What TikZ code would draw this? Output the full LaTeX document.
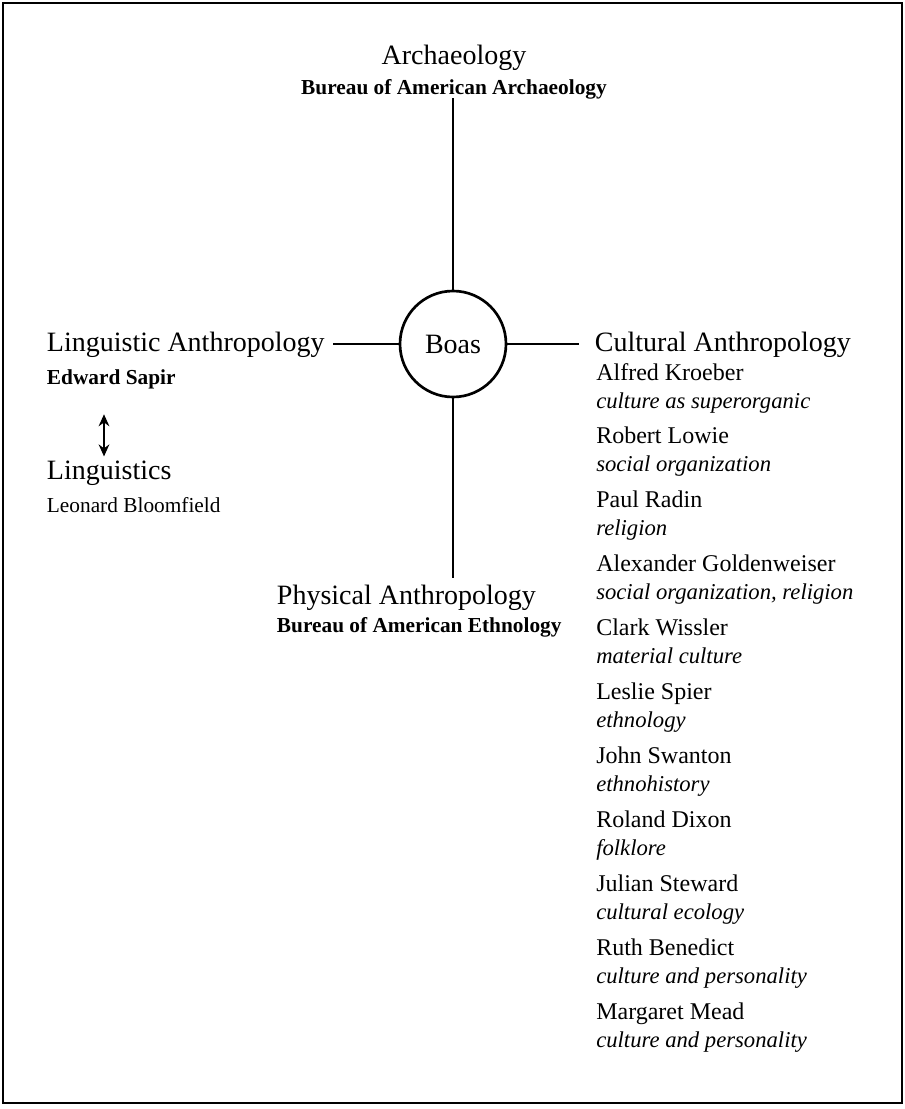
\documentclass[tikz,border=0pt]{standalone}
\usepackage{fontspec}
\setmainfont{Liberation Serif}
\usepackage{tikz}
\usetikzlibrary{arrows.meta, positioning}

\begin{document}
\begin{tikzpicture}
  [
    x=0.75pt, y=-0.75pt,
    Head/.style={inner sep=2pt, font=\fontsize{21}{24}\selectfont},
    Sub/.style={inner sep=2pt, font=\fontsize{16}{19}\selectfont\bfseries},
    Name/.style={inner sep=0pt, align=left, anchor=north west, font=\fontsize{18}{21}\selectfont},
    Hub/.style={circle, draw=black, line width=2pt, minimum size=79.5pt, inner sep=0pt, font=\fontsize{21}{24}\selectfont},
    Link/.style={draw, line width=1.5pt}
  ]
  \useasboundingbox (0,0) rectangle (905,1109);
  \draw[line width=1.5pt] (3,3) rectangle (902,1103);

  % Nodes
  \node[Hub] (boas) at (453, 344) {Boas};

  \node[Head] (arch) at (454, 58) {Archaeology};
  \node[Sub, below=2pt of arch] (archsub) {Bureau of American Archaeology};

  \node[Head, anchor=west] (ling) at (44, 345) {Linguistic Anthropology};
  \node[Sub, anchor=west] (sapir) at (44, 379) {Edward Sapir};
  \node[Head, anchor=west] (lingu) at (44, 473) {Linguistics};
  \node[Sub, anchor=west, font=\fontsize{16}{19}\selectfont] (bloom) at (44, 505) {Leonard Bloomfield};
  \coordinate (axis) at (104, 0);

  \node[Head, anchor=west] (phys) at (274, 598) {Physical Anthropology};
  \node[Sub, anchor=west] (physsub) at (274, 627) {Bureau of American Ethnology};

  \node[Head, anchor=west] (cult) at (592, 345) {Cultural Anthropology};
  \foreach \who/\what [count=\i from 0] in {
      Alfred Kroeber/culture as superorganic,
      Robert Lowie/social organization,
      Paul Radin/religion,
      Alexander Goldenweiser/{social organization, religion},
      Clark Wissler/material culture,
      Leslie Spier/ethnology,
      John Swanton/ethnohistory,
      Roland Dixon/folklore,
      Julian Steward/cultural ecology,
      Ruth Benedict/culture and personality,
      Margaret Mead/culture and personality}
    \node[Name] (p\i) at (596, {363 + 64*\i}) {\who\\{\itshape\fontsize{17}{21}\selectfont \what}};

  % Lines
  \path[Link, shorten >=-3pt] (boas.north) -- (boas.north |- archsub.south);
  \path[Link, shorten >=3pt] (boas.south) -- (boas.south |- phys.north);
  \path[Link, shorten >=4pt] (boas.west) -- (boas.west -| ling.east);
  \path[Link, shorten >=10pt] (boas.east) -- (boas.east -| cult.west);
  \path[Link, {Stealth[length=9pt, width=8pt]}-{Stealth[length=9pt, width=8pt]}, shorten <=17pt, shorten >=1pt]
    (sapir.south -| axis) -- (lingu.north -| axis);
\end{tikzpicture}
\end{document}
